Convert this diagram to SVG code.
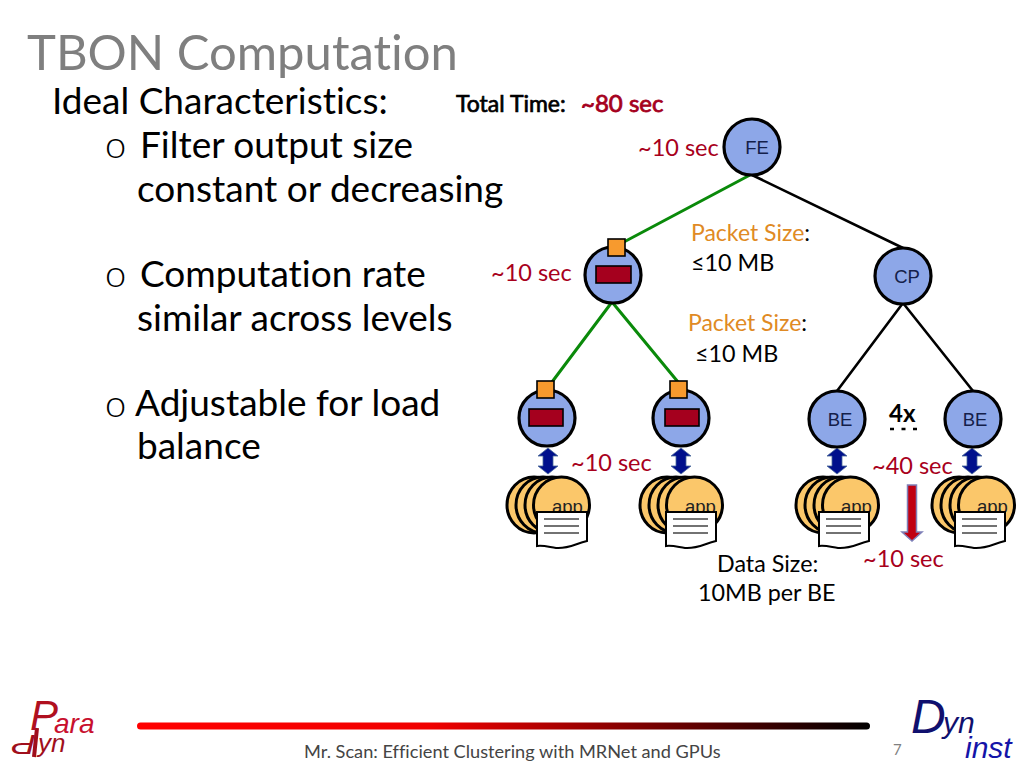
<svg xmlns="http://www.w3.org/2000/svg" xmlns:xlink="http://www.w3.org/1999/xlink" width="1024" height="768" viewBox="0 0 1024 768">
<style>
text{font-family:"Lato","Liberation Sans",sans-serif;font-variant-ligatures:none}
.body{font-size:37px;fill:#000}
.bul{font-size:38px;font-weight:300;fill:#000}
.red{font-size:23.5px;fill:#a8001c}
.pk{font-size:23px;fill:#e08a24}
.blk{font-size:23.3px;fill:#000}
.lab{font-family:"Liberation Sans",Arial,sans-serif;font-size:18.5px;fill:#14204a}
.node{fill:#8da7e8;stroke:#000;stroke-width:3.2}
.sq{fill:#f79a2e;stroke:#000;stroke-width:1.6}
.rc{fill:#a5001e;stroke:#000;stroke-width:1.6}
.ap{fill:#fbc76a;stroke:#000;stroke-width:3}
.apt{font-family:"Liberation Sans",Arial,sans-serif;font-size:18.5px;fill:#222}
.pap{fill:#fff;stroke:#000;stroke-width:2}
.pl{stroke:#444;stroke-width:1.5}
.ar{fill:#00108c;stroke:#4a6a9a;stroke-width:.8}
.g{stroke:#0a8a0a;stroke-width:3;fill:none}
.k{stroke:#000;stroke-width:2.6;fill:none}
.lg{font-family:"Liberation Sans",Arial,sans-serif;font-style:italic}
</style>
<defs>
<linearGradient id="bar" x1="0" x2="1" y1="0" y2="0"><stop offset="0" stop-color="#ff0000"/><stop offset=".4" stop-color="#f00000"/><stop offset="1" stop-color="#000"/></linearGradient>
<g id="stack">
<ellipse class="ap" cx="534" cy="505" rx="27" ry="28"/>
<ellipse class="ap" cx="543" cy="505" rx="27" ry="28"/>
<ellipse class="ap" cx="552" cy="505" rx="27" ry="28"/>
<ellipse class="ap" cx="561.5" cy="505" rx="28" ry="28"/>
<text class="apt" x="552" y="513">app</text>
</g>
<g id="paper">
<path class="pap" d="M537 512H587V541C575 544 568 549 556 548C549 547 543 545 537 546Z"/>
<path class="pl" d="M544 519H579M544 526H579M544 533H579" fill="none"/>
</g>
<path id="dbl" class="ar" d="M0 -13L10 -5H5V5H10L0 13L-10 5H-5V-5H-10Z"/>
</defs>

<g id="title">
<text x="27" y="70" font-size="49" fill="#7f7f7f">TBON Computation</text>
</g>
<g id="bullets">
<text class="body" x="52" y="114">Ideal Characteristics:</text>
<text class="bul" x="105" y="158">o</text><text class="body" x="140" y="158">Filter output size</text>
<text class="body" x="137" y="202">constant or decreasing</text>
<text class="bul" x="105" y="287">o</text><text class="body" x="140" y="287">Computation rate</text>
<text class="body" x="137" y="331">similar across levels</text>
<text class="bul" x="105" y="417">o</text><text class="body" x="135" y="416">Adjustable for load</text>
<text class="body" x="137" y="459">balance</text>
</g>
<g id="total">
<text x="456" y="112" font-size="23" fill="#000" stroke="#000" stroke-width=".7">Total Time:</text>
<text x="581" y="112" font-size="24" fill="#a5001e" stroke="#a5001e" stroke-width=".8">~80 sec</text>
</g>

<g id="connectors">
<path class="g" d="M750 175L622 243M612 302L552 382M612 302L678 382"/>
<path class="k" d="M752 175L903 248M903 303L837 391M903 303L973 391"/>
<use xlink:href="#dbl" href="#dbl" x="548" y="461"/>
<use xlink:href="#dbl" href="#dbl" x="681" y="461"/>
<use xlink:href="#dbl" href="#dbl" x="837" y="461"/>
<use xlink:href="#dbl" href="#dbl" x="972" y="461"/>
<path d="M907.500 485H916.500V532H922L912 541L902 532H907.500Z" fill="#c00012" stroke="#7f80b8" stroke-width="1.500"/>
</g>

<g id="fe"><circle class="node" cx="752" cy="147" r="28"/><text class="lab" x="757" y="154" text-anchor="middle">FE</text></g>
<g id="cp"><circle class="node" cx="903" cy="276" r="28"/><text class="lab" x="907" y="283" text-anchor="middle">CP</text></g>
<g id="mid"><circle class="node" cx="613" cy="275" r="28"/><rect class="sq" x="608" y="239" width="17" height="17"/><rect class="rc" x="596" y="266" width="35" height="17"/></g>
<g id="cn1"><circle class="node" cx="547" cy="418" r="28"/><rect class="sq" x="537" y="381" width="17" height="17"/><rect class="rc" x="529" y="409" width="34" height="17"/></g>
<g id="cn2"><circle class="node" cx="681" cy="418" r="28"/><rect class="sq" x="670" y="381" width="17" height="17"/><rect class="rc" x="665" y="409" width="34" height="17"/></g>
<g id="be1"><circle class="node" cx="837" cy="419" r="28"/><text class="lab" x="840" y="426" text-anchor="middle">BE</text></g>
<g id="be2"><circle class="node" cx="973" cy="419" r="28"/><text class="lab" x="975" y="426" text-anchor="middle">BE</text></g>

<g id="app1"><use xlink:href="#stack" href="#stack"/><use xlink:href="#paper" href="#paper"/></g>
<g id="app2"><use xlink:href="#stack" href="#stack" x="133"/><use xlink:href="#paper" href="#paper" x="129"/></g>
<g id="app3"><use xlink:href="#stack" href="#stack" x="289"/><use xlink:href="#paper" href="#paper" x="282"/></g>
<g id="app4"><use xlink:href="#stack" href="#stack" x="425"/><use xlink:href="#paper" href="#paper" x="418"/></g>

<g id="labels">
<text class="red" x="638" y="156">~10 sec</text>
<text class="red" x="491" y="281">~10 sec</text>
<text class="red" x="571" y="471">~10 sec</text>
<text class="red" x="872" y="474">~40 sec</text>
<text class="red" x="863" y="567">~10 sec</text>
<text class="pk" x="691" y="241">Packet Size<tspan fill="#000">:</tspan></text>
<text class="blk" x="691" y="271">≤10 MB</text>
<text class="pk" x="688" y="331">Packet Size<tspan fill="#000">:</tspan></text>
<text class="blk" x="695" y="362">≤10 MB</text>
<text class="blk" x="717" y="572">Data Size:</text>
<text class="blk" x="698" y="601">10MB per BE</text>
<text x="889" y="422" font-size="24" font-weight="700" fill="#000">4x</text>
<path d="M890 429H917" stroke="#000" stroke-width="2.500" stroke-dasharray="4 7.500"/>
</g>

<g id="footer">
<rect x="137" y="722.500" width="733" height="7" rx="3.500" fill="url(#bar)"/>
<text x="304" y="758" font-size="18.200" fill="#444">Mr. Scan: Efficient Clustering with MRNet and GPUs</text>
<text x="893" y="755" font-size="15" fill="#808080">7</text>
</g>
<g id="paradyn">
<path d="M37 728L34 757" stroke="#a00f1c" stroke-width="4" fill="none"/>
<text class="lg" x="30" y="730" font-size="42" fill="#b0101f">P</text>
<text class="lg" x="54" y="733" font-size="28" fill="#c8102e">ara</text>
<text class="lg" x="38" y="752" font-size="26" fill="#a00f1c">yn</text>
<text class="lg" x="0" y="0" font-size="28" fill="#a00f1c" transform="translate(36 735) rotate(180) scale(1.3 1)">P</text>
</g>
<g id="dyninst">
<text class="lg" x="911" y="733" font-size="48" fill="#10106e">D</text>
<text class="lg" x="943" y="733" font-size="30" fill="#10106e">yn</text>
<text class="lg" x="965" y="758" font-size="30" fill="#1414a8">inst</text>
</g>
</svg>
